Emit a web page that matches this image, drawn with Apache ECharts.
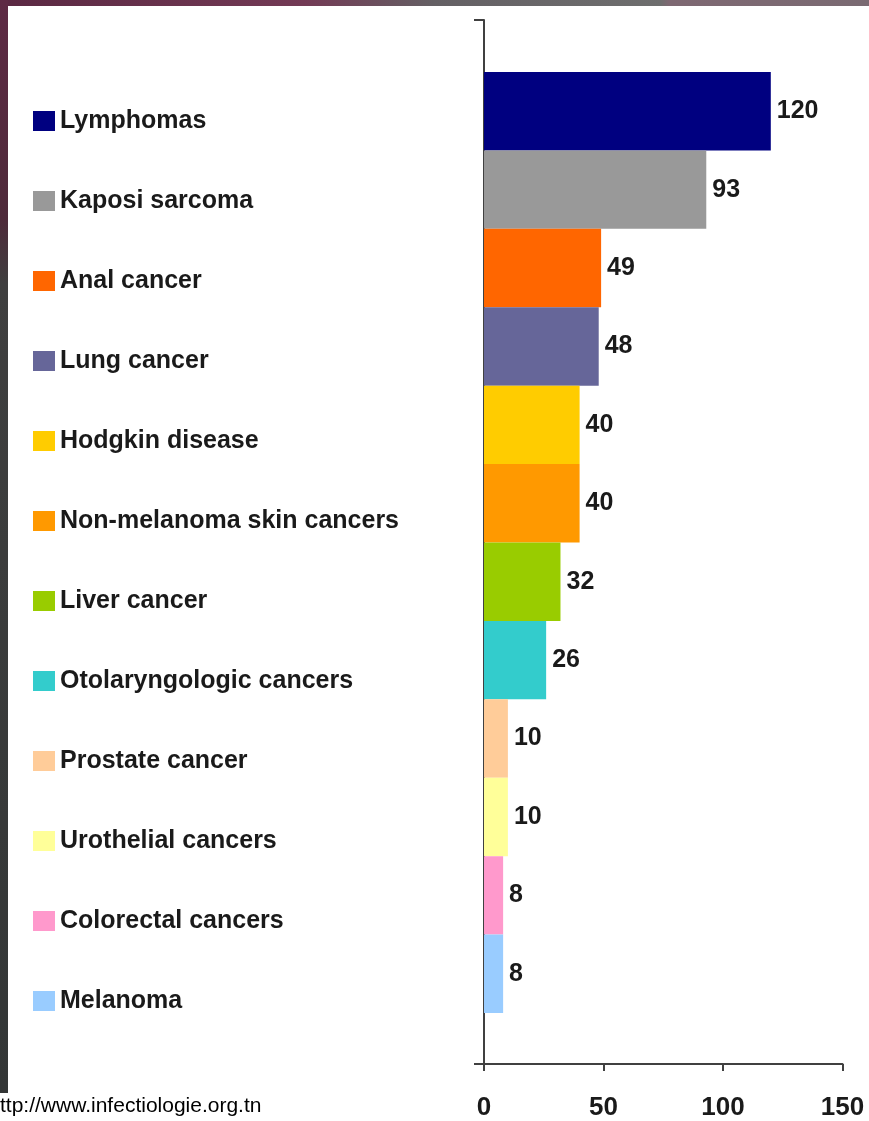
<!DOCTYPE html>
<html><head><meta charset="utf-8">
<script src="https://cdn.jsdelivr.net/npm/echarts@6/dist/echarts.min.js"></script>
<style>html,body{margin:0;padding:0;background:#fff}#c{width:869px;height:1121px}</style>
</head><body><div id="c"></div>
<script>
const categories = ['Lymphomas', 'Kaposi sarcoma', 'Anal cancer', 'Lung cancer', 'Hodgkin disease',
  'Non-melanoma skin cancers', 'Liver cancer', 'Otolaryngologic cancers', 'Prostate cancer',
  'Urothelial cancers', 'Colorectal cancers', 'Melanoma'];
const values = [120, 93, 49, 48, 40, 40, 32, 26, 10, 10, 8, 8];
const colors = ['#000080', '#999999', '#ff6600', '#666699', '#ffcc00', '#ff9900', '#99cc00',
  '#33cccc', '#ffcc99', '#ffff99', '#ff99cc', '#99ccff'];
const xTicks = [0, 50, 100, 150];
const sourceText = 'ttp://www.infectiologie.org.tn';

const FONT = '"Liberation Sans", Arial, sans-serif';
const chart = echarts.init(document.getElementById('c'), null, {renderer: 'canvas'});

const series = categories.map((name, i) => ({
  type: 'bar',
  name: name,
  stack: 'all',
  xAxisIndex: 0,
  yAxisIndex: 0,
  barCategoryGap: '0%',
  data: categories.map((c, j) => (j === i ? values[i] : '-')),
  itemStyle: {color: colors[i]},
  label: {
    show: true, position: 'right', distance: 6,
    fontFamily: FONT, fontWeight: 'bold', fontSize: 25, color: '#1a1a1a'
  },
  emphasis: {disabled: true}
}));

const axisColor = '#404040';
chart.setOption({
  backgroundColor: '#ffffff',
  animation: false,
  grid: [
    {left: 484, top: 72, width: 358.5, height: 941},
    {left: 484, top: 20, width: 358.5, height: 1045}
  ],
  xAxis: [
    {gridIndex: 0, type: 'value', min: xTicks[0], max: xTicks[xTicks.length - 1], show: false},
    {gridIndex: 1, type: 'value', min: xTicks[0], max: xTicks[xTicks.length - 1],
      interval: xTicks[1] - xTicks[0],
      axisLine: {show: true, lineStyle: {color: axisColor, width: 2}},
      axisTick: {show: true, length: 7, lineStyle: {color: axisColor, width: 2}},
      axisLabel: {fontFamily: FONT, fontWeight: 'bold', fontSize: 26, color: '#1a1a1a', margin: 31},
      splitLine: {show: false}}
  ],
  yAxis: [
    {gridIndex: 0, type: 'category', data: categories, inverse: true, show: false},
    {gridIndex: 1, type: 'value', min: 0, max: 1, interval: 1,
      axisLine: {show: true, lineStyle: {color: axisColor, width: 2}},
      axisTick: {show: true, length: 10, lineStyle: {color: axisColor, width: 2}},
      axisLabel: {show: false},
      splitLine: {show: false}}
  ],
  legend: {
    data: categories,
    orient: 'vertical',
    left: 33, top: 106, padding: 0,
    itemWidth: 22, itemHeight: 20, itemGap: 50,
    icon: 'rect',
    selectedMode: false,
    textStyle: {fontFamily: FONT, fontWeight: 'bold', fontSize: 25, color: '#1a1a1a', lineHeight: 30}
  },
  graphic: [
    {type: 'rect', shape: {x: 0, y: 0, width: 869, height: 6}, silent: true,
      style: {fill: new echarts.graphic.LinearGradient(0, 0, 1, 0, [
        {offset: 0, color: '#5a2842'}, {offset: 0.35, color: '#733a55'},
        {offset: 0.5, color: '#646064'}, {offset: 0.76, color: '#6e6e6e'},
        {offset: 0.77, color: '#7e6872'}, {offset: 1, color: '#7a6a72'}])}},
    {type: 'rect', shape: {x: 0, y: 0, width: 8, height: 1093}, silent: true,
      style: {fill: new echarts.graphic.LinearGradient(0, 0, 0, 1, [
        {offset: 0, color: '#5e2a44'}, {offset: 0.2, color: '#4e2a3a'},
        {offset: 0.26, color: '#3f3f3f'}, {offset: 1, color: '#333636'}])}},
    {type: 'text', left: 0, top: 1096, silent: true,
      style: {text: sourceText, fontFamily: FONT, fontSize: 21, fill: '#000000'}}
  ],
  series: series
});
</script></body></html>
